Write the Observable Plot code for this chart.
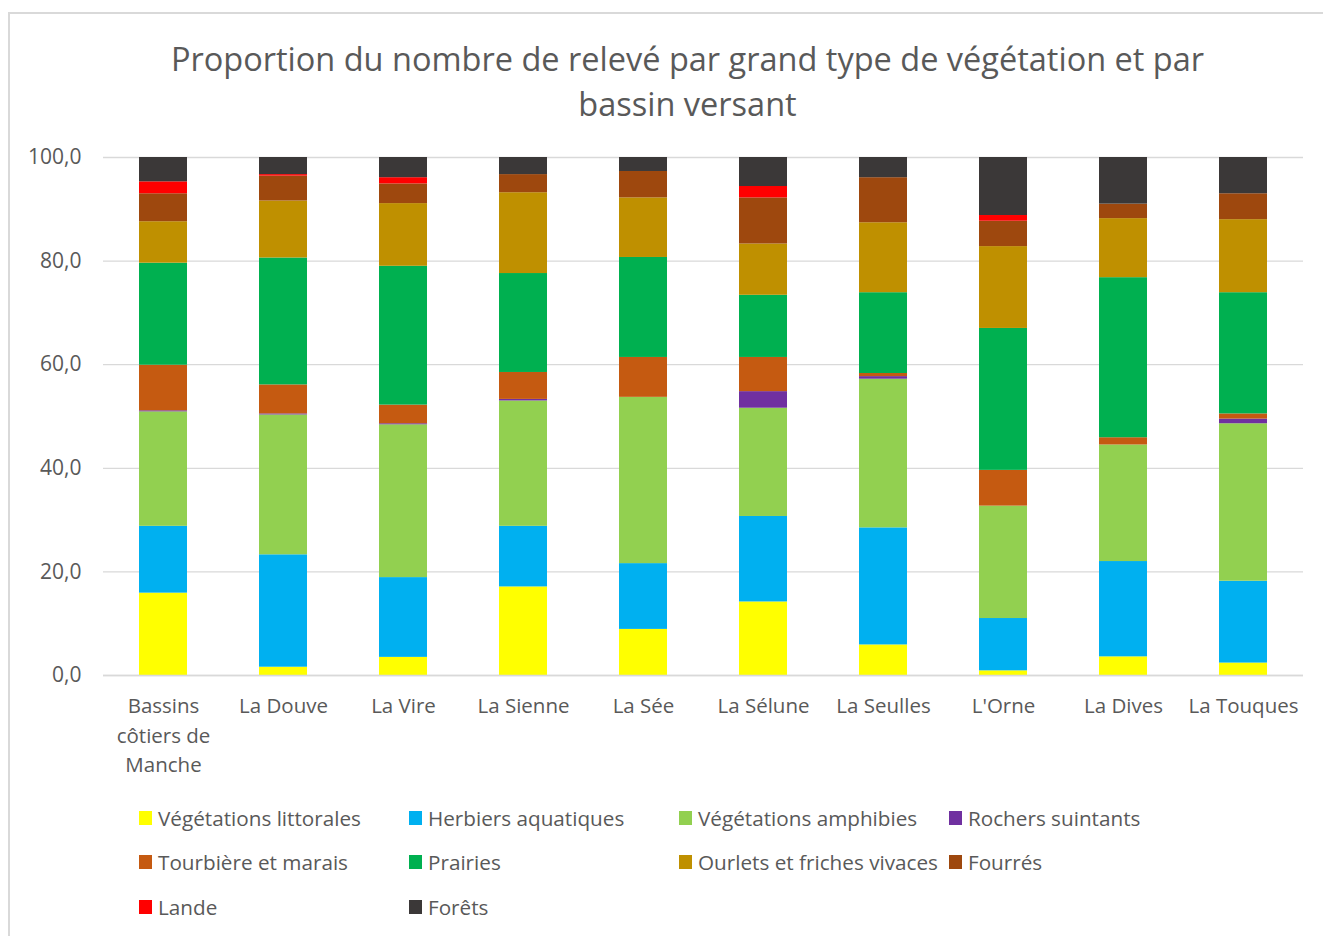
<!DOCTYPE html>
<html>
<head>
<meta charset="utf-8">
<script src="https://cdn.jsdelivr.net/npm/d3@7"></script>
<script src="https://cdn.jsdelivr.net/npm/@observablehq/plot@0.6"></script>
<style>
  html, body { margin: 0; padding: 0; background: #fff; }
  body { width: 1323px; height: 936px; position: relative; overflow: hidden; font-family: "Open Sans", sans-serif; color: #595959; }
  #frame { position: absolute; left: 8px; top: 12px; width: 1330px; height: 940px; border-left: 2px solid #d9d9d9; border-top: 2px solid #d9d9d9; box-sizing: border-box; }
  #title { position: absolute; left: 0; width: 1375px; top: 36px; text-align: center; font-size: 32.5px; line-height: 45px; color: #595959; }
  #chart { position: absolute; left: 0; top: 130px; }
  #legend { position: absolute; left: 0; top: 0; }
  .item { position: absolute; display: flex; align-items: center; font-size: 20.7px; color: #595959; white-space: nowrap; }
  .sw { width: 13px; height: 14px; margin-right: 6px; }
</style>
</head>
<body>
<div id="frame"></div>
<div id="title">Proportion du nombre de relevé par grand type de végétation et par<br>bassin versant</div>
<div id="chart"></div>
<div id="legend"></div>
<script>
const basins = ["Bassins côtiers de Manche", "La Douve", "La Vire", "La Sienne", "La Sée", "La Sélune", "La Seulles", "L'Orne", "La Dives", "La Touques"];
const seriesNames = ["Végétations littorales", "Herbiers aquatiques", "Végétations amphibies", "Rochers suintants", "Tourbière et marais", "Prairies", "Ourlets et friches vivaces", "Fourrés", "Lande", "Forêts"];
const seriesColors = ["#FFFF00", "#00B0F0", "#92D050", "#7030A0", "#C55A11", "#00B050", "#BF9000", "#9E480E", "#FF0000", "#3B3838"];

const littorales = [15.9, 1.6, 3.5, 17.1, 8.9, 14.2, 5.9, 0.9, 3.6, 2.4];
const herbiers   = [12.9, 21.7, 15.4, 11.7, 12.7, 16.5, 22.6, 10.1, 18.4, 15.8];
const amphibies  = [22.1, 27.0, 29.5, 24.2, 32.1, 20.9, 28.7, 21.7, 22.5, 30.4];
const rochers    = [0.2, 0.2, 0.2, 0.3, 0.0, 3.2, 0.5, 0.0, 0.0, 0.9];
const tourbiere  = [8.8, 5.6, 3.6, 5.2, 7.7, 6.6, 0.6, 6.9, 1.4, 1.0];
const prairies   = [19.7, 24.5, 26.8, 19.1, 19.3, 12.0, 15.6, 27.4, 30.9, 23.4];
const ourlets    = [8.0, 11.0, 12.1, 15.6, 11.5, 9.9, 13.5, 15.8, 11.4, 14.1];
const fourres    = [5.4, 4.8, 3.8, 3.5, 5.1, 8.9, 8.7, 4.9, 2.8, 5.0];
const lande      = [2.3, 0.3, 1.2, 0.0, 0.0, 2.2, 0.0, 1.1, 0.0, 0.0];
const forets     = [4.7, 3.3, 3.9, 3.3, 2.7, 5.6, 3.9, 11.2, 9.0, 7.0];

const yTicks = [0, 20, 40, 60, 80, 100];
const xTickLabels = {"Bassins côtiers de Manche": "Bassins\ncôtiers de\nManche"};

const seriesValues = [littorales, herbiers, amphibies, rochers, tourbiere, prairies, ourlets, fourres, lande, forets];
const rows = [];
seriesNames.forEach((s, si) => {
  basins.forEach((b, bi) => rows.push({basin: b, series: s, value: seriesValues[si][bi]}));
});

const fmt = v => d3.format(".1f")(v).replace(".", ",");

const chart = Plot.plot({
  width: 1323,
  height: 660,
  marginLeft: 103,
  marginRight: 20,
  marginTop: 27,
  marginBottom: 115,
  style: {fontFamily: "Open Sans, sans-serif", fontSize: "20.5px", color: "#595959", background: "transparent"},
  x: {domain: basins, paddingInner: 0.6, paddingOuter: 0.3, label: null},
  y: {domain: [0, 100], label: null},
  color: {domain: seriesNames, range: seriesColors},
  marks: [
    Plot.gridY(yTicks, {stroke: "#d9d9d9", strokeOpacity: 1, strokeWidth: 1.3}),
    Plot.barY(rows, {x: "basin", y: "value", fill: "series", order: seriesNames}),
    Plot.ruleY([0], {stroke: "#d9d9d9", strokeWidth: 1.3}),
    Plot.axisY({ticks: yTicks, tickFormat: fmt, tickSize: 0, tickPadding: 22, fill: "#595959", fontSize: 21}),
    Plot.axisX({tickSize: 0, tickPadding: 17, tickFormat: d => xTickLabels[d] || d, lineHeight: 1.44, fill: "#595959", fontSize: 20.5})
  ]
});
document.getElementById("chart").appendChild(chart);

const legend = document.getElementById("legend");
const colX = [139, 409, 679, 949];
const rowY = [818, 862, 907];
seriesNames.forEach((s, i) => {
  const r = Math.floor(i / 4), c = i % 4;
  const el = document.createElement("div");
  el.className = "item";
  el.style.left = colX[c] + "px";
  el.style.top = (rowY[r] - 14) + "px";
  el.style.height = "28px";
  const sw = document.createElement("span");
  sw.className = "sw";
  sw.style.background = seriesColors[i];
  const t = document.createElement("span");
  t.textContent = s;
  el.appendChild(sw); el.appendChild(t);
  legend.appendChild(el);
});
</script>
</body>
</html>
